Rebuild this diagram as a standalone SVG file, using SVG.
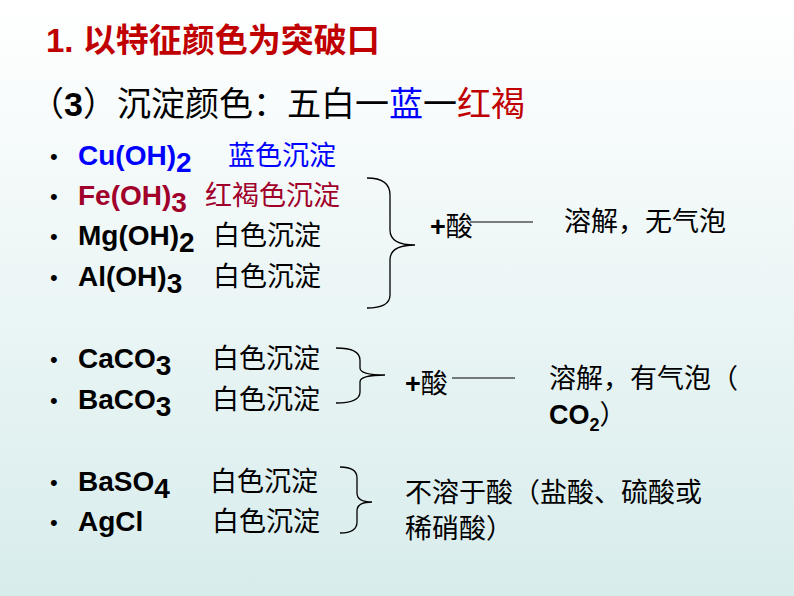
<svg xmlns="http://www.w3.org/2000/svg" width="794" height="596" viewBox="0 0 794 596">
<defs>
<linearGradient id="bg" x1="0" y1="0" x2="0" y2="1"><stop offset="0" stop-color="#ffffff"/><stop offset="1" stop-color="#d8ecec"/></linearGradient>
<style>
text{font-family:"Liberation Sans","Noto Sans CJK SC",sans-serif;font-size:27px;fill:#000}
.b{font-weight:bold;font-size:28px}
.br{fill:none;stroke:#000;stroke-width:1.3}
.ln{stroke:#000;stroke-width:1}
.bu{font-size:22px}
</style>
</defs>
<rect width="794" height="596" fill="url(#bg)"/>
<text x="46" y="52" style="fill:#c00000;font-size:33px;font-weight:bold">1. 以特征颜色为突破口</text>
<text x="30" y="116" style="font-size:34px">（<tspan font-weight="bold">3</tspan>）沉淀颜色：五白一<tspan fill="#0000ff">蓝</tspan>一<tspan fill="#c00000">红褐</tspan></text>
<g id="bullets">
<text x="50" y="164" class="bu" fill="#0000ff">•</text>
<text x="50" y="204" class="bu" fill="#a0002a">•</text>
<text x="50" y="244" class="bu">•</text>
<text x="50" y="285" class="bu">•</text>
<text x="50" y="367" class="bu">•</text>
<text x="50" y="408" class="bu">•</text>
<text x="50" y="490" class="bu">•</text>
<text x="50" y="530" class="bu">•</text>
</g>
<g id="list1">
<text x="78" y="165" style="fill:#0000ff"><tspan class="b">Cu(OH)</tspan><tspan class="b" font-size="18" dy="7">2</tspan><tspan dy="-7" x="228">蓝色沉淀</tspan></text>
<text x="78" y="205" style="fill:#a0002a"><tspan class="b">Fe(OH)</tspan><tspan class="b" font-size="18" dy="7">3</tspan><tspan dy="-7" x="205">红褐色沉淀</tspan></text>
<text x="78" y="245"><tspan class="b">Mg(OH)</tspan><tspan class="b" font-size="18" dy="7">2</tspan><tspan dy="-7" x="213">白色沉淀</tspan></text>
<text x="78" y="286"><tspan class="b">Al(OH)</tspan><tspan class="b" font-size="18" dy="7">3</tspan><tspan dy="-7" x="213">白色沉淀</tspan></text>
</g>
<g id="list2">
<text x="78" y="368"><tspan class="b">CaCO</tspan><tspan class="b" font-size="18" dy="7">3</tspan><tspan dy="-7" x="212">白色沉淀</tspan></text>
<text x="78" y="409"><tspan class="b">BaCO</tspan><tspan class="b" font-size="18" dy="7">3</tspan><tspan dy="-7" x="212">白色沉淀</tspan></text>
</g>
<g id="list3">
<text x="78" y="491"><tspan class="b">BaSO</tspan><tspan class="b" font-size="18" dy="7">4</tspan><tspan dy="-7" x="210">白色沉淀</tspan></text>
<text x="78" y="531"><tspan class="b">AgCl</tspan><tspan x="212">白色沉淀</tspan></text>
</g>
<g id="connectors">
<path class="br" d="M367 178 Q390 178 390 195 L390 230 Q390 245 415 245 Q390 245 390 260 L390 295 Q390 308 367 308"/>
<path class="br" d="M336 348 Q360 348 360 360 L360 368 Q360 375 385 375 Q360 375 360 382 L360 392 Q360 403 336 403"/>
<path class="br" d="M340 467 Q357 467 357 478 L357 493 Q357 502 372 502 Q357 502 357 511 L357 522 Q357 533 340 533"/>
<line class="ln" x1="470" y1="222" x2="533" y2="222"/>
<line class="ln" x1="452" y1="378" x2="515" y2="378"/>
</g>
<text x="430" y="236"><tspan font-weight="bold">+</tspan>酸</text>
<text x="564" y="231">溶解，无气泡</text>
<text x="405" y="393"><tspan font-weight="bold">+</tspan>酸</text>
<text x="549" y="388">溶解，有气泡（</text>
<text x="549" y="424" font-weight="bold">CO<tspan font-size="18" dy="7">2</tspan><tspan dy="-7" font-weight="normal">）</tspan></text>
<text x="405" y="502">不溶于酸（盐酸、硫酸或</text>
<text x="405" y="538">稀硝酸）</text>
</svg>
